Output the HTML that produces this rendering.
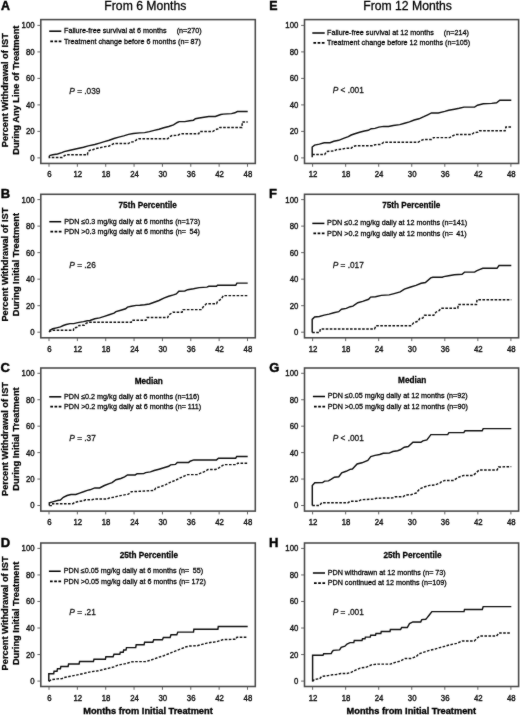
<!DOCTYPE html>
<html><head><meta charset="utf-8"><style>
html,body{margin:0;padding:0;background:#fff;width:520px;height:715px;overflow:hidden;}
svg{display:block;font-family:"Liberation Sans", sans-serif;will-change:transform;}
</style></head><body>
<svg width="520" height="715" viewBox="0 0 520 715">
<defs><filter id="soft" color-interpolation-filters="sRGB" filterUnits="userSpaceOnUse" primitiveUnits="userSpaceOnUse" x="0" y="0" width="520" height="715"><feConvolveMatrix order="3" kernelMatrix="0.5 1 0.5 1 16 1 0.5 1 0.5" divisor="22" edgeMode="duplicate" preserveAlpha="true"/></filter></defs>
<rect width="520" height="715" fill="#fff"/>
<g filter="url(#soft)">
<rect width="520" height="715" fill="#fff"/>
<rect x="40.80" y="19.60" width="214.50" height="143.85" fill="none" stroke="#484848" stroke-width="1.55"/>
<line x1="37.40" y1="157.90" x2="40.80" y2="157.90" stroke="#555" stroke-width="0.9"/>
<text transform="translate(34.60,160.85) scale(1,1.1)" font-size="7.8" font-weight="normal" font-style="normal" text-anchor="end" fill="#111" stroke="#111" stroke-width="0.35" >0</text>
<line x1="37.40" y1="131.40" x2="40.80" y2="131.40" stroke="#555" stroke-width="0.9"/>
<text transform="translate(34.60,134.35) scale(1,1.1)" font-size="7.8" font-weight="normal" font-style="normal" text-anchor="end" fill="#111" stroke="#111" stroke-width="0.35" >20</text>
<line x1="37.40" y1="104.90" x2="40.80" y2="104.90" stroke="#555" stroke-width="0.9"/>
<text transform="translate(34.60,107.85) scale(1,1.1)" font-size="7.8" font-weight="normal" font-style="normal" text-anchor="end" fill="#111" stroke="#111" stroke-width="0.35" >40</text>
<line x1="37.40" y1="78.40" x2="40.80" y2="78.40" stroke="#555" stroke-width="0.9"/>
<text transform="translate(34.60,81.35) scale(1,1.1)" font-size="7.8" font-weight="normal" font-style="normal" text-anchor="end" fill="#111" stroke="#111" stroke-width="0.35" >60</text>
<line x1="37.40" y1="51.90" x2="40.80" y2="51.90" stroke="#555" stroke-width="0.9"/>
<text transform="translate(34.60,54.85) scale(1,1.1)" font-size="7.8" font-weight="normal" font-style="normal" text-anchor="end" fill="#111" stroke="#111" stroke-width="0.35" >80</text>
<line x1="37.40" y1="25.40" x2="40.80" y2="25.40" stroke="#555" stroke-width="0.9"/>
<text transform="translate(34.60,28.35) scale(1,1.1)" font-size="7.8" font-weight="normal" font-style="normal" text-anchor="end" fill="#111" stroke="#111" stroke-width="0.35" >100</text>
<line x1="49.00" y1="163.45" x2="49.00" y2="166.75" stroke="#555" stroke-width="0.9"/>
<text transform="translate(49.40,176.80) scale(1,1.1)" font-size="7.8" font-weight="normal" font-style="normal" text-anchor="middle" fill="#111" stroke="#111" stroke-width="0.35" >6</text>
<line x1="77.36" y1="163.45" x2="77.36" y2="166.75" stroke="#555" stroke-width="0.9"/>
<text transform="translate(77.76,176.80) scale(1,1.1)" font-size="7.8" font-weight="normal" font-style="normal" text-anchor="middle" fill="#111" stroke="#111" stroke-width="0.35" >12</text>
<line x1="105.71" y1="163.45" x2="105.71" y2="166.75" stroke="#555" stroke-width="0.9"/>
<text transform="translate(106.11,176.80) scale(1,1.1)" font-size="7.8" font-weight="normal" font-style="normal" text-anchor="middle" fill="#111" stroke="#111" stroke-width="0.35" >18</text>
<line x1="134.07" y1="163.45" x2="134.07" y2="166.75" stroke="#555" stroke-width="0.9"/>
<text transform="translate(134.47,176.80) scale(1,1.1)" font-size="7.8" font-weight="normal" font-style="normal" text-anchor="middle" fill="#111" stroke="#111" stroke-width="0.35" >24</text>
<line x1="162.43" y1="163.45" x2="162.43" y2="166.75" stroke="#555" stroke-width="0.9"/>
<text transform="translate(162.83,176.80) scale(1,1.1)" font-size="7.8" font-weight="normal" font-style="normal" text-anchor="middle" fill="#111" stroke="#111" stroke-width="0.35" >30</text>
<line x1="190.79" y1="163.45" x2="190.79" y2="166.75" stroke="#555" stroke-width="0.9"/>
<text transform="translate(191.19,176.80) scale(1,1.1)" font-size="7.8" font-weight="normal" font-style="normal" text-anchor="middle" fill="#111" stroke="#111" stroke-width="0.35" >36</text>
<line x1="219.14" y1="163.45" x2="219.14" y2="166.75" stroke="#555" stroke-width="0.9"/>
<text transform="translate(219.54,176.80) scale(1,1.1)" font-size="7.8" font-weight="normal" font-style="normal" text-anchor="middle" fill="#111" stroke="#111" stroke-width="0.35" >42</text>
<line x1="247.50" y1="163.45" x2="247.50" y2="166.75" stroke="#555" stroke-width="0.9"/>
<text transform="translate(247.90,176.80) scale(1,1.1)" font-size="7.8" font-weight="normal" font-style="normal" text-anchor="middle" fill="#111" stroke="#111" stroke-width="0.35" >48</text>
<rect x="304.50" y="19.60" width="214.10" height="143.85" fill="none" stroke="#484848" stroke-width="1.55"/>
<line x1="301.10" y1="157.90" x2="304.50" y2="157.90" stroke="#555" stroke-width="0.9"/>
<text transform="translate(298.30,160.85) scale(1,1.1)" font-size="7.8" font-weight="normal" font-style="normal" text-anchor="end" fill="#111" stroke="#111" stroke-width="0.35" >0</text>
<line x1="301.10" y1="131.40" x2="304.50" y2="131.40" stroke="#555" stroke-width="0.9"/>
<text transform="translate(298.30,134.35) scale(1,1.1)" font-size="7.8" font-weight="normal" font-style="normal" text-anchor="end" fill="#111" stroke="#111" stroke-width="0.35" >20</text>
<line x1="301.10" y1="104.90" x2="304.50" y2="104.90" stroke="#555" stroke-width="0.9"/>
<text transform="translate(298.30,107.85) scale(1,1.1)" font-size="7.8" font-weight="normal" font-style="normal" text-anchor="end" fill="#111" stroke="#111" stroke-width="0.35" >40</text>
<line x1="301.10" y1="78.40" x2="304.50" y2="78.40" stroke="#555" stroke-width="0.9"/>
<text transform="translate(298.30,81.35) scale(1,1.1)" font-size="7.8" font-weight="normal" font-style="normal" text-anchor="end" fill="#111" stroke="#111" stroke-width="0.35" >60</text>
<line x1="301.10" y1="51.90" x2="304.50" y2="51.90" stroke="#555" stroke-width="0.9"/>
<text transform="translate(298.30,54.85) scale(1,1.1)" font-size="7.8" font-weight="normal" font-style="normal" text-anchor="end" fill="#111" stroke="#111" stroke-width="0.35" >80</text>
<line x1="301.10" y1="25.40" x2="304.50" y2="25.40" stroke="#555" stroke-width="0.9"/>
<text transform="translate(298.30,28.35) scale(1,1.1)" font-size="7.8" font-weight="normal" font-style="normal" text-anchor="end" fill="#111" stroke="#111" stroke-width="0.35" >100</text>
<line x1="312.60" y1="163.45" x2="312.60" y2="166.75" stroke="#555" stroke-width="0.9"/>
<text transform="translate(313.00,176.80) scale(1,1.1)" font-size="7.8" font-weight="normal" font-style="normal" text-anchor="middle" fill="#111" stroke="#111" stroke-width="0.35" >12</text>
<line x1="345.65" y1="163.45" x2="345.65" y2="166.75" stroke="#555" stroke-width="0.9"/>
<text transform="translate(346.05,176.80) scale(1,1.1)" font-size="7.8" font-weight="normal" font-style="normal" text-anchor="middle" fill="#111" stroke="#111" stroke-width="0.35" >18</text>
<line x1="378.70" y1="163.45" x2="378.70" y2="166.75" stroke="#555" stroke-width="0.9"/>
<text transform="translate(379.10,176.80) scale(1,1.1)" font-size="7.8" font-weight="normal" font-style="normal" text-anchor="middle" fill="#111" stroke="#111" stroke-width="0.35" >24</text>
<line x1="411.75" y1="163.45" x2="411.75" y2="166.75" stroke="#555" stroke-width="0.9"/>
<text transform="translate(412.15,176.80) scale(1,1.1)" font-size="7.8" font-weight="normal" font-style="normal" text-anchor="middle" fill="#111" stroke="#111" stroke-width="0.35" >30</text>
<line x1="444.80" y1="163.45" x2="444.80" y2="166.75" stroke="#555" stroke-width="0.9"/>
<text transform="translate(445.20,176.80) scale(1,1.1)" font-size="7.8" font-weight="normal" font-style="normal" text-anchor="middle" fill="#111" stroke="#111" stroke-width="0.35" >36</text>
<line x1="477.85" y1="163.45" x2="477.85" y2="166.75" stroke="#555" stroke-width="0.9"/>
<text transform="translate(478.25,176.80) scale(1,1.1)" font-size="7.8" font-weight="normal" font-style="normal" text-anchor="middle" fill="#111" stroke="#111" stroke-width="0.35" >42</text>
<line x1="510.90" y1="163.45" x2="510.90" y2="166.75" stroke="#555" stroke-width="0.9"/>
<text transform="translate(511.30,176.80) scale(1,1.1)" font-size="7.8" font-weight="normal" font-style="normal" text-anchor="middle" fill="#111" stroke="#111" stroke-width="0.35" >48</text>
<rect x="40.80" y="194.30" width="214.50" height="143.50" fill="none" stroke="#484848" stroke-width="1.55"/>
<line x1="37.40" y1="332.20" x2="40.80" y2="332.20" stroke="#555" stroke-width="0.9"/>
<text transform="translate(34.60,335.15) scale(1,1.1)" font-size="7.8" font-weight="normal" font-style="normal" text-anchor="end" fill="#111" stroke="#111" stroke-width="0.35" >0</text>
<line x1="37.40" y1="305.68" x2="40.80" y2="305.68" stroke="#555" stroke-width="0.9"/>
<text transform="translate(34.60,308.63) scale(1,1.1)" font-size="7.8" font-weight="normal" font-style="normal" text-anchor="end" fill="#111" stroke="#111" stroke-width="0.35" >20</text>
<line x1="37.40" y1="279.16" x2="40.80" y2="279.16" stroke="#555" stroke-width="0.9"/>
<text transform="translate(34.60,282.11) scale(1,1.1)" font-size="7.8" font-weight="normal" font-style="normal" text-anchor="end" fill="#111" stroke="#111" stroke-width="0.35" >40</text>
<line x1="37.40" y1="252.64" x2="40.80" y2="252.64" stroke="#555" stroke-width="0.9"/>
<text transform="translate(34.60,255.59) scale(1,1.1)" font-size="7.8" font-weight="normal" font-style="normal" text-anchor="end" fill="#111" stroke="#111" stroke-width="0.35" >60</text>
<line x1="37.40" y1="226.12" x2="40.80" y2="226.12" stroke="#555" stroke-width="0.9"/>
<text transform="translate(34.60,229.07) scale(1,1.1)" font-size="7.8" font-weight="normal" font-style="normal" text-anchor="end" fill="#111" stroke="#111" stroke-width="0.35" >80</text>
<line x1="37.40" y1="199.60" x2="40.80" y2="199.60" stroke="#555" stroke-width="0.9"/>
<text transform="translate(34.60,202.55) scale(1,1.1)" font-size="7.8" font-weight="normal" font-style="normal" text-anchor="end" fill="#111" stroke="#111" stroke-width="0.35" >100</text>
<line x1="49.00" y1="337.80" x2="49.00" y2="341.10" stroke="#555" stroke-width="0.9"/>
<text transform="translate(49.40,351.50) scale(1,1.1)" font-size="7.8" font-weight="normal" font-style="normal" text-anchor="middle" fill="#111" stroke="#111" stroke-width="0.35" >6</text>
<line x1="77.36" y1="337.80" x2="77.36" y2="341.10" stroke="#555" stroke-width="0.9"/>
<text transform="translate(77.76,351.50) scale(1,1.1)" font-size="7.8" font-weight="normal" font-style="normal" text-anchor="middle" fill="#111" stroke="#111" stroke-width="0.35" >12</text>
<line x1="105.71" y1="337.80" x2="105.71" y2="341.10" stroke="#555" stroke-width="0.9"/>
<text transform="translate(106.11,351.50) scale(1,1.1)" font-size="7.8" font-weight="normal" font-style="normal" text-anchor="middle" fill="#111" stroke="#111" stroke-width="0.35" >18</text>
<line x1="134.07" y1="337.80" x2="134.07" y2="341.10" stroke="#555" stroke-width="0.9"/>
<text transform="translate(134.47,351.50) scale(1,1.1)" font-size="7.8" font-weight="normal" font-style="normal" text-anchor="middle" fill="#111" stroke="#111" stroke-width="0.35" >24</text>
<line x1="162.43" y1="337.80" x2="162.43" y2="341.10" stroke="#555" stroke-width="0.9"/>
<text transform="translate(162.83,351.50) scale(1,1.1)" font-size="7.8" font-weight="normal" font-style="normal" text-anchor="middle" fill="#111" stroke="#111" stroke-width="0.35" >30</text>
<line x1="190.79" y1="337.80" x2="190.79" y2="341.10" stroke="#555" stroke-width="0.9"/>
<text transform="translate(191.19,351.50) scale(1,1.1)" font-size="7.8" font-weight="normal" font-style="normal" text-anchor="middle" fill="#111" stroke="#111" stroke-width="0.35" >36</text>
<line x1="219.14" y1="337.80" x2="219.14" y2="341.10" stroke="#555" stroke-width="0.9"/>
<text transform="translate(219.54,351.50) scale(1,1.1)" font-size="7.8" font-weight="normal" font-style="normal" text-anchor="middle" fill="#111" stroke="#111" stroke-width="0.35" >42</text>
<line x1="247.50" y1="337.80" x2="247.50" y2="341.10" stroke="#555" stroke-width="0.9"/>
<text transform="translate(247.90,351.50) scale(1,1.1)" font-size="7.8" font-weight="normal" font-style="normal" text-anchor="middle" fill="#111" stroke="#111" stroke-width="0.35" >48</text>
<rect x="304.50" y="194.30" width="214.10" height="143.50" fill="none" stroke="#484848" stroke-width="1.55"/>
<line x1="301.10" y1="332.20" x2="304.50" y2="332.20" stroke="#555" stroke-width="0.9"/>
<text transform="translate(298.30,335.15) scale(1,1.1)" font-size="7.8" font-weight="normal" font-style="normal" text-anchor="end" fill="#111" stroke="#111" stroke-width="0.35" >0</text>
<line x1="301.10" y1="305.68" x2="304.50" y2="305.68" stroke="#555" stroke-width="0.9"/>
<text transform="translate(298.30,308.63) scale(1,1.1)" font-size="7.8" font-weight="normal" font-style="normal" text-anchor="end" fill="#111" stroke="#111" stroke-width="0.35" >20</text>
<line x1="301.10" y1="279.16" x2="304.50" y2="279.16" stroke="#555" stroke-width="0.9"/>
<text transform="translate(298.30,282.11) scale(1,1.1)" font-size="7.8" font-weight="normal" font-style="normal" text-anchor="end" fill="#111" stroke="#111" stroke-width="0.35" >40</text>
<line x1="301.10" y1="252.64" x2="304.50" y2="252.64" stroke="#555" stroke-width="0.9"/>
<text transform="translate(298.30,255.59) scale(1,1.1)" font-size="7.8" font-weight="normal" font-style="normal" text-anchor="end" fill="#111" stroke="#111" stroke-width="0.35" >60</text>
<line x1="301.10" y1="226.12" x2="304.50" y2="226.12" stroke="#555" stroke-width="0.9"/>
<text transform="translate(298.30,229.07) scale(1,1.1)" font-size="7.8" font-weight="normal" font-style="normal" text-anchor="end" fill="#111" stroke="#111" stroke-width="0.35" >80</text>
<line x1="301.10" y1="199.60" x2="304.50" y2="199.60" stroke="#555" stroke-width="0.9"/>
<text transform="translate(298.30,202.55) scale(1,1.1)" font-size="7.8" font-weight="normal" font-style="normal" text-anchor="end" fill="#111" stroke="#111" stroke-width="0.35" >100</text>
<line x1="312.60" y1="337.80" x2="312.60" y2="341.10" stroke="#555" stroke-width="0.9"/>
<text transform="translate(313.00,351.50) scale(1,1.1)" font-size="7.8" font-weight="normal" font-style="normal" text-anchor="middle" fill="#111" stroke="#111" stroke-width="0.35" >12</text>
<line x1="345.65" y1="337.80" x2="345.65" y2="341.10" stroke="#555" stroke-width="0.9"/>
<text transform="translate(346.05,351.50) scale(1,1.1)" font-size="7.8" font-weight="normal" font-style="normal" text-anchor="middle" fill="#111" stroke="#111" stroke-width="0.35" >18</text>
<line x1="378.70" y1="337.80" x2="378.70" y2="341.10" stroke="#555" stroke-width="0.9"/>
<text transform="translate(379.10,351.50) scale(1,1.1)" font-size="7.8" font-weight="normal" font-style="normal" text-anchor="middle" fill="#111" stroke="#111" stroke-width="0.35" >24</text>
<line x1="411.75" y1="337.80" x2="411.75" y2="341.10" stroke="#555" stroke-width="0.9"/>
<text transform="translate(412.15,351.50) scale(1,1.1)" font-size="7.8" font-weight="normal" font-style="normal" text-anchor="middle" fill="#111" stroke="#111" stroke-width="0.35" >30</text>
<line x1="444.80" y1="337.80" x2="444.80" y2="341.10" stroke="#555" stroke-width="0.9"/>
<text transform="translate(445.20,351.50) scale(1,1.1)" font-size="7.8" font-weight="normal" font-style="normal" text-anchor="middle" fill="#111" stroke="#111" stroke-width="0.35" >36</text>
<line x1="477.85" y1="337.80" x2="477.85" y2="341.10" stroke="#555" stroke-width="0.9"/>
<text transform="translate(478.25,351.50) scale(1,1.1)" font-size="7.8" font-weight="normal" font-style="normal" text-anchor="middle" fill="#111" stroke="#111" stroke-width="0.35" >42</text>
<line x1="510.90" y1="337.80" x2="510.90" y2="341.10" stroke="#555" stroke-width="0.9"/>
<text transform="translate(511.30,351.50) scale(1,1.1)" font-size="7.8" font-weight="normal" font-style="normal" text-anchor="middle" fill="#111" stroke="#111" stroke-width="0.35" >48</text>
<rect x="40.80" y="368.00" width="214.50" height="143.10" fill="none" stroke="#484848" stroke-width="1.55"/>
<line x1="37.40" y1="505.50" x2="40.80" y2="505.50" stroke="#555" stroke-width="0.9"/>
<text transform="translate(34.60,508.45) scale(1,1.1)" font-size="7.8" font-weight="normal" font-style="normal" text-anchor="end" fill="#111" stroke="#111" stroke-width="0.35" >0</text>
<line x1="37.40" y1="479.06" x2="40.80" y2="479.06" stroke="#555" stroke-width="0.9"/>
<text transform="translate(34.60,482.01) scale(1,1.1)" font-size="7.8" font-weight="normal" font-style="normal" text-anchor="end" fill="#111" stroke="#111" stroke-width="0.35" >20</text>
<line x1="37.40" y1="452.62" x2="40.80" y2="452.62" stroke="#555" stroke-width="0.9"/>
<text transform="translate(34.60,455.57) scale(1,1.1)" font-size="7.8" font-weight="normal" font-style="normal" text-anchor="end" fill="#111" stroke="#111" stroke-width="0.35" >40</text>
<line x1="37.40" y1="426.18" x2="40.80" y2="426.18" stroke="#555" stroke-width="0.9"/>
<text transform="translate(34.60,429.13) scale(1,1.1)" font-size="7.8" font-weight="normal" font-style="normal" text-anchor="end" fill="#111" stroke="#111" stroke-width="0.35" >60</text>
<line x1="37.40" y1="399.74" x2="40.80" y2="399.74" stroke="#555" stroke-width="0.9"/>
<text transform="translate(34.60,402.69) scale(1,1.1)" font-size="7.8" font-weight="normal" font-style="normal" text-anchor="end" fill="#111" stroke="#111" stroke-width="0.35" >80</text>
<line x1="37.40" y1="373.30" x2="40.80" y2="373.30" stroke="#555" stroke-width="0.9"/>
<text transform="translate(34.60,376.25) scale(1,1.1)" font-size="7.8" font-weight="normal" font-style="normal" text-anchor="end" fill="#111" stroke="#111" stroke-width="0.35" >100</text>
<line x1="49.00" y1="511.10" x2="49.00" y2="514.40" stroke="#555" stroke-width="0.9"/>
<text transform="translate(49.40,525.30) scale(1,1.1)" font-size="7.8" font-weight="normal" font-style="normal" text-anchor="middle" fill="#111" stroke="#111" stroke-width="0.35" >6</text>
<line x1="77.36" y1="511.10" x2="77.36" y2="514.40" stroke="#555" stroke-width="0.9"/>
<text transform="translate(77.76,525.30) scale(1,1.1)" font-size="7.8" font-weight="normal" font-style="normal" text-anchor="middle" fill="#111" stroke="#111" stroke-width="0.35" >12</text>
<line x1="105.71" y1="511.10" x2="105.71" y2="514.40" stroke="#555" stroke-width="0.9"/>
<text transform="translate(106.11,525.30) scale(1,1.1)" font-size="7.8" font-weight="normal" font-style="normal" text-anchor="middle" fill="#111" stroke="#111" stroke-width="0.35" >18</text>
<line x1="134.07" y1="511.10" x2="134.07" y2="514.40" stroke="#555" stroke-width="0.9"/>
<text transform="translate(134.47,525.30) scale(1,1.1)" font-size="7.8" font-weight="normal" font-style="normal" text-anchor="middle" fill="#111" stroke="#111" stroke-width="0.35" >24</text>
<line x1="162.43" y1="511.10" x2="162.43" y2="514.40" stroke="#555" stroke-width="0.9"/>
<text transform="translate(162.83,525.30) scale(1,1.1)" font-size="7.8" font-weight="normal" font-style="normal" text-anchor="middle" fill="#111" stroke="#111" stroke-width="0.35" >30</text>
<line x1="190.79" y1="511.10" x2="190.79" y2="514.40" stroke="#555" stroke-width="0.9"/>
<text transform="translate(191.19,525.30) scale(1,1.1)" font-size="7.8" font-weight="normal" font-style="normal" text-anchor="middle" fill="#111" stroke="#111" stroke-width="0.35" >36</text>
<line x1="219.14" y1="511.10" x2="219.14" y2="514.40" stroke="#555" stroke-width="0.9"/>
<text transform="translate(219.54,525.30) scale(1,1.1)" font-size="7.8" font-weight="normal" font-style="normal" text-anchor="middle" fill="#111" stroke="#111" stroke-width="0.35" >42</text>
<line x1="247.50" y1="511.10" x2="247.50" y2="514.40" stroke="#555" stroke-width="0.9"/>
<text transform="translate(247.90,525.30) scale(1,1.1)" font-size="7.8" font-weight="normal" font-style="normal" text-anchor="middle" fill="#111" stroke="#111" stroke-width="0.35" >48</text>
<rect x="304.50" y="368.00" width="214.10" height="143.10" fill="none" stroke="#484848" stroke-width="1.55"/>
<line x1="301.10" y1="505.50" x2="304.50" y2="505.50" stroke="#555" stroke-width="0.9"/>
<text transform="translate(298.30,508.45) scale(1,1.1)" font-size="7.8" font-weight="normal" font-style="normal" text-anchor="end" fill="#111" stroke="#111" stroke-width="0.35" >0</text>
<line x1="301.10" y1="479.06" x2="304.50" y2="479.06" stroke="#555" stroke-width="0.9"/>
<text transform="translate(298.30,482.01) scale(1,1.1)" font-size="7.8" font-weight="normal" font-style="normal" text-anchor="end" fill="#111" stroke="#111" stroke-width="0.35" >20</text>
<line x1="301.10" y1="452.62" x2="304.50" y2="452.62" stroke="#555" stroke-width="0.9"/>
<text transform="translate(298.30,455.57) scale(1,1.1)" font-size="7.8" font-weight="normal" font-style="normal" text-anchor="end" fill="#111" stroke="#111" stroke-width="0.35" >40</text>
<line x1="301.10" y1="426.18" x2="304.50" y2="426.18" stroke="#555" stroke-width="0.9"/>
<text transform="translate(298.30,429.13) scale(1,1.1)" font-size="7.8" font-weight="normal" font-style="normal" text-anchor="end" fill="#111" stroke="#111" stroke-width="0.35" >60</text>
<line x1="301.10" y1="399.74" x2="304.50" y2="399.74" stroke="#555" stroke-width="0.9"/>
<text transform="translate(298.30,402.69) scale(1,1.1)" font-size="7.8" font-weight="normal" font-style="normal" text-anchor="end" fill="#111" stroke="#111" stroke-width="0.35" >80</text>
<line x1="301.10" y1="373.30" x2="304.50" y2="373.30" stroke="#555" stroke-width="0.9"/>
<text transform="translate(298.30,376.25) scale(1,1.1)" font-size="7.8" font-weight="normal" font-style="normal" text-anchor="end" fill="#111" stroke="#111" stroke-width="0.35" >100</text>
<line x1="312.60" y1="511.10" x2="312.60" y2="514.40" stroke="#555" stroke-width="0.9"/>
<text transform="translate(313.00,525.30) scale(1,1.1)" font-size="7.8" font-weight="normal" font-style="normal" text-anchor="middle" fill="#111" stroke="#111" stroke-width="0.35" >12</text>
<line x1="345.65" y1="511.10" x2="345.65" y2="514.40" stroke="#555" stroke-width="0.9"/>
<text transform="translate(346.05,525.30) scale(1,1.1)" font-size="7.8" font-weight="normal" font-style="normal" text-anchor="middle" fill="#111" stroke="#111" stroke-width="0.35" >18</text>
<line x1="378.70" y1="511.10" x2="378.70" y2="514.40" stroke="#555" stroke-width="0.9"/>
<text transform="translate(379.10,525.30) scale(1,1.1)" font-size="7.8" font-weight="normal" font-style="normal" text-anchor="middle" fill="#111" stroke="#111" stroke-width="0.35" >24</text>
<line x1="411.75" y1="511.10" x2="411.75" y2="514.40" stroke="#555" stroke-width="0.9"/>
<text transform="translate(412.15,525.30) scale(1,1.1)" font-size="7.8" font-weight="normal" font-style="normal" text-anchor="middle" fill="#111" stroke="#111" stroke-width="0.35" >30</text>
<line x1="444.80" y1="511.10" x2="444.80" y2="514.40" stroke="#555" stroke-width="0.9"/>
<text transform="translate(445.20,525.30) scale(1,1.1)" font-size="7.8" font-weight="normal" font-style="normal" text-anchor="middle" fill="#111" stroke="#111" stroke-width="0.35" >36</text>
<line x1="477.85" y1="511.10" x2="477.85" y2="514.40" stroke="#555" stroke-width="0.9"/>
<text transform="translate(478.25,525.30) scale(1,1.1)" font-size="7.8" font-weight="normal" font-style="normal" text-anchor="middle" fill="#111" stroke="#111" stroke-width="0.35" >42</text>
<line x1="510.90" y1="511.10" x2="510.90" y2="514.40" stroke="#555" stroke-width="0.9"/>
<text transform="translate(511.30,525.30) scale(1,1.1)" font-size="7.8" font-weight="normal" font-style="normal" text-anchor="middle" fill="#111" stroke="#111" stroke-width="0.35" >48</text>
<rect x="40.80" y="543.00" width="214.50" height="143.50" fill="none" stroke="#484848" stroke-width="1.55"/>
<line x1="37.40" y1="681.10" x2="40.80" y2="681.10" stroke="#555" stroke-width="0.9"/>
<text transform="translate(34.60,684.05) scale(1,1.1)" font-size="7.8" font-weight="normal" font-style="normal" text-anchor="end" fill="#111" stroke="#111" stroke-width="0.35" >0</text>
<line x1="37.40" y1="654.56" x2="40.80" y2="654.56" stroke="#555" stroke-width="0.9"/>
<text transform="translate(34.60,657.51) scale(1,1.1)" font-size="7.8" font-weight="normal" font-style="normal" text-anchor="end" fill="#111" stroke="#111" stroke-width="0.35" >20</text>
<line x1="37.40" y1="628.02" x2="40.80" y2="628.02" stroke="#555" stroke-width="0.9"/>
<text transform="translate(34.60,630.97) scale(1,1.1)" font-size="7.8" font-weight="normal" font-style="normal" text-anchor="end" fill="#111" stroke="#111" stroke-width="0.35" >40</text>
<line x1="37.40" y1="601.48" x2="40.80" y2="601.48" stroke="#555" stroke-width="0.9"/>
<text transform="translate(34.60,604.43) scale(1,1.1)" font-size="7.8" font-weight="normal" font-style="normal" text-anchor="end" fill="#111" stroke="#111" stroke-width="0.35" >60</text>
<line x1="37.40" y1="574.94" x2="40.80" y2="574.94" stroke="#555" stroke-width="0.9"/>
<text transform="translate(34.60,577.89) scale(1,1.1)" font-size="7.8" font-weight="normal" font-style="normal" text-anchor="end" fill="#111" stroke="#111" stroke-width="0.35" >80</text>
<line x1="37.40" y1="548.40" x2="40.80" y2="548.40" stroke="#555" stroke-width="0.9"/>
<text transform="translate(34.60,551.35) scale(1,1.1)" font-size="7.8" font-weight="normal" font-style="normal" text-anchor="end" fill="#111" stroke="#111" stroke-width="0.35" >100</text>
<line x1="49.00" y1="686.50" x2="49.00" y2="689.80" stroke="#555" stroke-width="0.9"/>
<text transform="translate(49.40,700.80) scale(1,1.1)" font-size="7.8" font-weight="normal" font-style="normal" text-anchor="middle" fill="#111" stroke="#111" stroke-width="0.35" >6</text>
<line x1="77.36" y1="686.50" x2="77.36" y2="689.80" stroke="#555" stroke-width="0.9"/>
<text transform="translate(77.76,700.80) scale(1,1.1)" font-size="7.8" font-weight="normal" font-style="normal" text-anchor="middle" fill="#111" stroke="#111" stroke-width="0.35" >12</text>
<line x1="105.71" y1="686.50" x2="105.71" y2="689.80" stroke="#555" stroke-width="0.9"/>
<text transform="translate(106.11,700.80) scale(1,1.1)" font-size="7.8" font-weight="normal" font-style="normal" text-anchor="middle" fill="#111" stroke="#111" stroke-width="0.35" >18</text>
<line x1="134.07" y1="686.50" x2="134.07" y2="689.80" stroke="#555" stroke-width="0.9"/>
<text transform="translate(134.47,700.80) scale(1,1.1)" font-size="7.8" font-weight="normal" font-style="normal" text-anchor="middle" fill="#111" stroke="#111" stroke-width="0.35" >24</text>
<line x1="162.43" y1="686.50" x2="162.43" y2="689.80" stroke="#555" stroke-width="0.9"/>
<text transform="translate(162.83,700.80) scale(1,1.1)" font-size="7.8" font-weight="normal" font-style="normal" text-anchor="middle" fill="#111" stroke="#111" stroke-width="0.35" >30</text>
<line x1="190.79" y1="686.50" x2="190.79" y2="689.80" stroke="#555" stroke-width="0.9"/>
<text transform="translate(191.19,700.80) scale(1,1.1)" font-size="7.8" font-weight="normal" font-style="normal" text-anchor="middle" fill="#111" stroke="#111" stroke-width="0.35" >36</text>
<line x1="219.14" y1="686.50" x2="219.14" y2="689.80" stroke="#555" stroke-width="0.9"/>
<text transform="translate(219.54,700.80) scale(1,1.1)" font-size="7.8" font-weight="normal" font-style="normal" text-anchor="middle" fill="#111" stroke="#111" stroke-width="0.35" >42</text>
<line x1="247.50" y1="686.50" x2="247.50" y2="689.80" stroke="#555" stroke-width="0.9"/>
<text transform="translate(247.90,700.80) scale(1,1.1)" font-size="7.8" font-weight="normal" font-style="normal" text-anchor="middle" fill="#111" stroke="#111" stroke-width="0.35" >48</text>
<rect x="304.50" y="543.00" width="214.10" height="143.50" fill="none" stroke="#484848" stroke-width="1.55"/>
<line x1="301.10" y1="681.10" x2="304.50" y2="681.10" stroke="#555" stroke-width="0.9"/>
<text transform="translate(298.30,684.05) scale(1,1.1)" font-size="7.8" font-weight="normal" font-style="normal" text-anchor="end" fill="#111" stroke="#111" stroke-width="0.35" >0</text>
<line x1="301.10" y1="654.56" x2="304.50" y2="654.56" stroke="#555" stroke-width="0.9"/>
<text transform="translate(298.30,657.51) scale(1,1.1)" font-size="7.8" font-weight="normal" font-style="normal" text-anchor="end" fill="#111" stroke="#111" stroke-width="0.35" >20</text>
<line x1="301.10" y1="628.02" x2="304.50" y2="628.02" stroke="#555" stroke-width="0.9"/>
<text transform="translate(298.30,630.97) scale(1,1.1)" font-size="7.8" font-weight="normal" font-style="normal" text-anchor="end" fill="#111" stroke="#111" stroke-width="0.35" >40</text>
<line x1="301.10" y1="601.48" x2="304.50" y2="601.48" stroke="#555" stroke-width="0.9"/>
<text transform="translate(298.30,604.43) scale(1,1.1)" font-size="7.8" font-weight="normal" font-style="normal" text-anchor="end" fill="#111" stroke="#111" stroke-width="0.35" >60</text>
<line x1="301.10" y1="574.94" x2="304.50" y2="574.94" stroke="#555" stroke-width="0.9"/>
<text transform="translate(298.30,577.89) scale(1,1.1)" font-size="7.8" font-weight="normal" font-style="normal" text-anchor="end" fill="#111" stroke="#111" stroke-width="0.35" >80</text>
<line x1="301.10" y1="548.40" x2="304.50" y2="548.40" stroke="#555" stroke-width="0.9"/>
<text transform="translate(298.30,551.35) scale(1,1.1)" font-size="7.8" font-weight="normal" font-style="normal" text-anchor="end" fill="#111" stroke="#111" stroke-width="0.35" >100</text>
<line x1="312.60" y1="686.50" x2="312.60" y2="689.80" stroke="#555" stroke-width="0.9"/>
<text transform="translate(313.00,700.80) scale(1,1.1)" font-size="7.8" font-weight="normal" font-style="normal" text-anchor="middle" fill="#111" stroke="#111" stroke-width="0.35" >12</text>
<line x1="345.65" y1="686.50" x2="345.65" y2="689.80" stroke="#555" stroke-width="0.9"/>
<text transform="translate(346.05,700.80) scale(1,1.1)" font-size="7.8" font-weight="normal" font-style="normal" text-anchor="middle" fill="#111" stroke="#111" stroke-width="0.35" >18</text>
<line x1="378.70" y1="686.50" x2="378.70" y2="689.80" stroke="#555" stroke-width="0.9"/>
<text transform="translate(379.10,700.80) scale(1,1.1)" font-size="7.8" font-weight="normal" font-style="normal" text-anchor="middle" fill="#111" stroke="#111" stroke-width="0.35" >24</text>
<line x1="411.75" y1="686.50" x2="411.75" y2="689.80" stroke="#555" stroke-width="0.9"/>
<text transform="translate(412.15,700.80) scale(1,1.1)" font-size="7.8" font-weight="normal" font-style="normal" text-anchor="middle" fill="#111" stroke="#111" stroke-width="0.35" >30</text>
<line x1="444.80" y1="686.50" x2="444.80" y2="689.80" stroke="#555" stroke-width="0.9"/>
<text transform="translate(445.20,700.80) scale(1,1.1)" font-size="7.8" font-weight="normal" font-style="normal" text-anchor="middle" fill="#111" stroke="#111" stroke-width="0.35" >36</text>
<line x1="477.85" y1="686.50" x2="477.85" y2="689.80" stroke="#555" stroke-width="0.9"/>
<text transform="translate(478.25,700.80) scale(1,1.1)" font-size="7.8" font-weight="normal" font-style="normal" text-anchor="middle" fill="#111" stroke="#111" stroke-width="0.35" >42</text>
<line x1="510.90" y1="686.50" x2="510.90" y2="689.80" stroke="#555" stroke-width="0.9"/>
<text transform="translate(511.30,700.80) scale(1,1.1)" font-size="7.8" font-weight="normal" font-style="normal" text-anchor="middle" fill="#111" stroke="#111" stroke-width="0.35" >48</text>
<text x="145.35" y="9.60" font-size="12.2" font-weight="normal" font-style="normal" text-anchor="middle" fill="#000" stroke="#000" stroke-width="0.26" >From 6 Months</text>
<text x="407.60" y="9.60" font-size="12.2" font-weight="normal" font-style="normal" text-anchor="middle" fill="#000" stroke="#000" stroke-width="0.26" >From 12 Months</text>
<text x="0.90" y="9.90" font-size="12.4" font-weight="bold" font-style="normal" text-anchor="start" fill="#000" stroke="#000" stroke-width="0.45" >A</text>
<text x="0.70" y="198.40" font-size="13" font-weight="bold" font-style="normal" text-anchor="start" fill="#000" stroke="#000" stroke-width="0.45" >B</text>
<text x="0.50" y="371.50" font-size="13" font-weight="bold" font-style="normal" text-anchor="start" fill="#000" stroke="#000" stroke-width="0.45" >C</text>
<text x="0.70" y="546.90" font-size="13" font-weight="bold" font-style="normal" text-anchor="start" fill="#000" stroke="#000" stroke-width="0.45" >D</text>
<text x="269.30" y="9.90" font-size="12.4" font-weight="bold" font-style="normal" text-anchor="start" fill="#000" stroke="#000" stroke-width="0.45" >E</text>
<text x="268.90" y="198.40" font-size="13" font-weight="bold" font-style="normal" text-anchor="start" fill="#000" stroke="#000" stroke-width="0.45" >F</text>
<text x="269.20" y="371.50" font-size="13" font-weight="bold" font-style="normal" text-anchor="start" fill="#000" stroke="#000" stroke-width="0.45" >G</text>
<text x="269.00" y="546.90" font-size="13" font-weight="bold" font-style="normal" text-anchor="start" fill="#000" stroke="#000" stroke-width="0.45" >H</text>
<text transform="translate(7.60,90.20) rotate(-90)" x="0" y="0" font-size="9.25" font-weight="bold" text-anchor="middle" fill="#000" stroke="#000" stroke-width="0.26">Percent Withdrawal of IST</text>
<text transform="translate(18.60,90.20) rotate(-90)" x="0" y="0" font-size="9.25" font-weight="bold" text-anchor="middle" fill="#000" stroke="#000" stroke-width="0.26">During Any Line of Treatment</text>
<text transform="translate(7.60,264.60) rotate(-90)" x="0" y="0" font-size="9.25" font-weight="bold" text-anchor="middle" fill="#000" stroke="#000" stroke-width="0.26">Percent Withdrawal of IST</text>
<text transform="translate(18.60,264.60) rotate(-90)" x="0" y="0" font-size="9.25" font-weight="bold" text-anchor="middle" fill="#000" stroke="#000" stroke-width="0.26">During Initial Treatment</text>
<text transform="translate(7.60,439.00) rotate(-90)" x="0" y="0" font-size="9.25" font-weight="bold" text-anchor="middle" fill="#000" stroke="#000" stroke-width="0.26">Percent Withdrawal of IST</text>
<text transform="translate(18.60,439.00) rotate(-90)" x="0" y="0" font-size="9.25" font-weight="bold" text-anchor="middle" fill="#000" stroke="#000" stroke-width="0.26">During Initial Treatment</text>
<text transform="translate(7.60,613.40) rotate(-90)" x="0" y="0" font-size="9.25" font-weight="bold" text-anchor="middle" fill="#000" stroke="#000" stroke-width="0.26">Percent Withdrawal of IST</text>
<text transform="translate(18.60,613.40) rotate(-90)" x="0" y="0" font-size="9.25" font-weight="bold" text-anchor="middle" fill="#000" stroke="#000" stroke-width="0.26">During Initial Treatment</text>
<text x="148.00" y="714.30" font-size="9.25" font-weight="bold" font-style="normal" text-anchor="middle" fill="#000" stroke="#000" stroke-width="0.35" >Months from Initial Treatment</text>
<text x="411.30" y="714.30" font-size="9.25" font-weight="bold" font-style="normal" text-anchor="middle" fill="#000" stroke="#000" stroke-width="0.35" >Months from Initial Treatment</text>
<text x="147.70" y="207.90" font-size="8.2" font-weight="bold" font-style="normal" text-anchor="middle" fill="#000" stroke="#000" stroke-width="0.26" >75th Percentile</text>
<text x="148.75" y="383.50" font-size="8.2" font-weight="bold" font-style="normal" text-anchor="middle" fill="#000" stroke="#000" stroke-width="0.26" >Median</text>
<text x="148.85" y="557.50" font-size="8.2" font-weight="bold" font-style="normal" text-anchor="middle" fill="#000" stroke="#000" stroke-width="0.26" >25th Percentile</text>
<text x="411.25" y="208.20" font-size="8.2" font-weight="bold" font-style="normal" text-anchor="middle" fill="#000" stroke="#000" stroke-width="0.26" >75th Percentile</text>
<text x="412.20" y="383.40" font-size="8.2" font-weight="bold" font-style="normal" text-anchor="middle" fill="#000" stroke="#000" stroke-width="0.26" >Median</text>
<text x="412.50" y="557.80" font-size="8.2" font-weight="bold" font-style="normal" text-anchor="middle" fill="#000" stroke="#000" stroke-width="0.26" >25th Percentile</text>
<line x1="49.20" y1="31.20" x2="61.30" y2="31.20" stroke="#000" stroke-width="1.5"/>
<line x1="50.30" y1="41.40" x2="61.40" y2="41.40" stroke="#000" stroke-width="1.6" stroke-dasharray="2.7 1.5"/>
<text x="64.00" y="33.10" font-size="7.2" font-weight="normal" font-style="normal" text-anchor="start" fill="#000" stroke="#000" stroke-width="0.26" >Failure-free survival at 6 months</text>
<text x="64.00" y="43.70" font-size="7.2" font-weight="normal" font-style="normal" text-anchor="start" fill="#000" stroke="#000" stroke-width="0.26" >Treatment change before 6 months (n= 87)</text>
<text x="176.70" y="33.10" font-size="7.2" font-weight="normal" font-style="normal" text-anchor="start" fill="#000" stroke="#000" stroke-width="0.26" >(n=270)</text>
<line x1="49.30" y1="221.70" x2="61.20" y2="221.70" stroke="#000" stroke-width="1.5"/>
<line x1="50.40" y1="231.60" x2="61.50" y2="231.60" stroke="#000" stroke-width="1.6" stroke-dasharray="2.7 1.5"/>
<text x="64.20" y="223.60" font-size="7.2" font-weight="normal" font-style="normal" text-anchor="start" fill="#000" stroke="#000" stroke-width="0.26" >PDN ≤0.3 mg/kg daily at 6 months (n=173)</text>
<text x="64.20" y="233.90" font-size="7.2" font-weight="normal" font-style="normal" text-anchor="start" fill="#000" stroke="#000" stroke-width="0.26" >PDN &gt;0.3 mg/kg daily at 6 months (n=  54)</text>
<line x1="49.20" y1="396.80" x2="61.30" y2="396.80" stroke="#000" stroke-width="1.5"/>
<line x1="50.30" y1="406.60" x2="61.40" y2="406.60" stroke="#000" stroke-width="1.6" stroke-dasharray="2.7 1.5"/>
<text x="64.00" y="398.70" font-size="7.2" font-weight="normal" font-style="normal" text-anchor="start" fill="#000" stroke="#000" stroke-width="0.26" >PDN ≤0.2 mg/kg daily at 6 months (n=116)</text>
<text x="64.00" y="408.90" font-size="7.2" font-weight="normal" font-style="normal" text-anchor="start" fill="#000" stroke="#000" stroke-width="0.26" >PDN &gt;0.2 mg/kg daily at 6 months (n= 111)</text>
<line x1="48.90" y1="571.25" x2="60.70" y2="571.25" stroke="#000" stroke-width="1.5"/>
<line x1="50.00" y1="581.40" x2="61.10" y2="581.40" stroke="#000" stroke-width="1.6" stroke-dasharray="2.7 1.5"/>
<text x="63.70" y="573.15" font-size="7.2" font-weight="normal" font-style="normal" text-anchor="start" fill="#000" stroke="#000" stroke-width="0.26" >PDN ≤0.05 mg/kg daily at 6 months (n=  55)</text>
<text x="63.70" y="583.70" font-size="7.2" font-weight="normal" font-style="normal" text-anchor="start" fill="#000" stroke="#000" stroke-width="0.26" >PDN &gt;0.05 mg/kg daily at 6 months (n= 172)</text>
<line x1="312.30" y1="33.00" x2="324.70" y2="33.00" stroke="#000" stroke-width="1.5"/>
<line x1="313.40" y1="42.90" x2="324.50" y2="42.90" stroke="#000" stroke-width="1.6" stroke-dasharray="2.7 1.5"/>
<text x="327.10" y="34.90" font-size="7.2" font-weight="normal" font-style="normal" text-anchor="start" fill="#000" stroke="#000" stroke-width="0.26" >Failure-free survival at 12 months</text>
<text x="327.10" y="45.20" font-size="7.2" font-weight="normal" font-style="normal" text-anchor="start" fill="#000" stroke="#000" stroke-width="0.26" >Treatment change before 12 months (n=105)</text>
<text x="443.80" y="34.90" font-size="7.2" font-weight="normal" font-style="normal" text-anchor="start" fill="#000" stroke="#000" stroke-width="0.26" >(n=214)</text>
<line x1="312.30" y1="223.40" x2="324.40" y2="223.40" stroke="#000" stroke-width="1.5"/>
<line x1="313.40" y1="233.40" x2="324.50" y2="233.40" stroke="#000" stroke-width="1.6" stroke-dasharray="2.7 1.5"/>
<text x="327.10" y="225.30" font-size="7.2" font-weight="normal" font-style="normal" text-anchor="start" fill="#000" stroke="#000" stroke-width="0.26" >PDN ≤0.2 mg/kg daily at 12 months (n=141)</text>
<text x="327.10" y="235.70" font-size="7.2" font-weight="normal" font-style="normal" text-anchor="start" fill="#000" stroke="#000" stroke-width="0.26" >PDN &gt;0.2 mg/kg daily at 12 months (n=  41)</text>
<line x1="312.90" y1="396.50" x2="325.00" y2="396.50" stroke="#000" stroke-width="1.5"/>
<line x1="314.00" y1="406.60" x2="325.10" y2="406.60" stroke="#000" stroke-width="1.6" stroke-dasharray="2.7 1.5"/>
<text x="327.70" y="398.40" font-size="7.2" font-weight="normal" font-style="normal" text-anchor="start" fill="#000" stroke="#000" stroke-width="0.26" >PDN ≤0.05 mg/kg daily at 12 months (n=92)</text>
<text x="327.70" y="408.90" font-size="7.2" font-weight="normal" font-style="normal" text-anchor="start" fill="#000" stroke="#000" stroke-width="0.26" >PDN &gt;0.05 mg/kg daily at 12 months (n=90)</text>
<line x1="312.90" y1="573.00" x2="325.00" y2="573.00" stroke="#000" stroke-width="1.5"/>
<line x1="314.00" y1="583.10" x2="325.10" y2="583.10" stroke="#000" stroke-width="1.6" stroke-dasharray="2.7 1.5"/>
<text x="327.70" y="574.90" font-size="7.2" font-weight="normal" font-style="normal" text-anchor="start" fill="#000" stroke="#000" stroke-width="0.26" >PDN withdrawn at 12 months (n= 73)</text>
<text x="327.70" y="585.40" font-size="7.2" font-weight="normal" font-style="normal" text-anchor="start" fill="#000" stroke="#000" stroke-width="0.26" >PDN continued at 12 months (n=109)</text>
<text x="69.30" y="93.50" font-size="8.3" fill="#111" stroke="#111" stroke-width="0.26"><tspan font-style="italic">P</tspan> = .039</text>
<text x="69.30" y="267.90" font-size="8.3" fill="#111" stroke="#111" stroke-width="0.26"><tspan font-style="italic">P</tspan> = .26</text>
<text x="69.30" y="441.20" font-size="8.3" fill="#111" stroke="#111" stroke-width="0.26"><tspan font-style="italic">P</tspan> = .37</text>
<text x="69.30" y="614.90" font-size="8.3" fill="#111" stroke="#111" stroke-width="0.26"><tspan font-style="italic">P</tspan> = .21</text>
<text x="332.70" y="93.10" font-size="8.3" fill="#111" stroke="#111" stroke-width="0.26"><tspan font-style="italic">P</tspan> &lt; .001</text>
<text x="332.70" y="267.50" font-size="8.3" fill="#111" stroke="#111" stroke-width="0.26"><tspan font-style="italic">P</tspan> = .017</text>
<text x="332.70" y="441.40" font-size="8.3" fill="#111" stroke="#111" stroke-width="0.26"><tspan font-style="italic">P</tspan> &lt; .001</text>
<text x="332.70" y="615.20" font-size="8.3" fill="#111" stroke="#111" stroke-width="0.26"><tspan font-style="italic">P</tspan> = .001</text>
<polyline points="49.30,155.60 52.70,154.80 57.50,154.00 61.80,152.60 64.20,151.60 70.00,150.20 76.70,148.75 83.50,147.30 88.30,145.90 94.80,144.50 99.60,143.10 104.40,141.60 109.20,140.20 114.00,138.50 118.80,137.10 123.70,135.90 128.50,134.40 133.30,133.50 139.80,132.90 144.60,132.60 149.40,131.60 154.20,130.40 159.00,129.20 163.80,127.80 168.70,126.50 173.50,124.90 177.30,122.50 179.20,121.60 184.80,121.60 189.60,120.70 193.50,120.20 195.40,118.75 199.20,118.00 204.00,117.30 208.80,116.50 215.30,116.50 218.00,115.50 220.80,114.50 223.30,114.10 231.50,113.60 234.90,112.80 237.30,111.50 247.70,111.50" fill="none" stroke="#111" stroke-width="1.45" stroke-linejoin="miter"/>
<polyline points="49.30,155.80 49.30,157.40 62.30,157.40 64.70,155.50 67.10,154.70 87.50,154.70 87.80,151.60 90.20,150.20 93.00,149.70 94.80,148.80 99.60,147.90 104.40,146.70 109.20,146.00 114.00,143.50 128.50,143.50 130.40,142.10 133.00,141.90 136.20,140.20 137.00,139.30 138.80,138.80 167.70,138.80 169.60,136.90 172.00,135.50 178.00,135.30 179.20,134.50 182.10,133.70 198.75,133.70 199.70,131.50 212.70,131.50 214.10,130.60 216.50,129.30 218.90,128.80 219.90,127.40 241.90,127.40 242.30,121.90 247.70,121.90" fill="none" stroke="#111" stroke-width="1.45" stroke-linejoin="miter" stroke-dasharray="2.6 1.45"/>
<polyline points="49.30,330.60 52.70,328.80 56.50,327.90 60.40,326.90 63.30,325.50 66.20,324.50 70.00,323.60 73.80,323.60 77.70,322.60 83.50,321.60 87.30,320.70 90.00,320.50 94.80,318.80 99.60,317.90 104.40,316.40 109.20,314.80 114.00,313.10 116.00,311.60 120.80,310.20 125.60,308.75 127.50,307.10 131.30,306.30 136.20,305.40 139.80,305.20 144.60,304.80 149.40,304.00 154.20,302.30 159.00,300.50 163.80,298.10 168.70,296.30 173.50,294.90 176.30,293.90 178.80,291.30 184.80,291.00 187.70,289.70 193.50,288.75 199.20,287.60 206.90,287.10 208.80,286.30 216.50,286.30 217.50,285.30 235.70,285.30 236.90,283.10 247.70,283.10" fill="none" stroke="#111" stroke-width="1.45" stroke-linejoin="miter"/>
<polyline points="48.80,331.70 52.70,330.30 73.40,330.30 73.80,327.90 77.70,327.20 79.10,325.50 84.40,325.20 86.30,323.10 89.20,322.30 131.30,322.30 132.30,320.20 146.00,320.20 147.00,317.50 167.70,317.50 168.70,315.10 173.00,312.20 182.10,312.20 182.90,309.60 201.60,309.60 203.10,307.00 206.40,303.80 216.50,303.80 217.50,301.50 220.00,299.80 221.60,298.50 223.30,295.60 247.70,295.60" fill="none" stroke="#111" stroke-width="1.45" stroke-linejoin="miter" stroke-dasharray="2.6 1.45"/>
<polyline points="49.30,505.60 49.30,502.90 52.70,501.90 57.50,500.50 60.40,500.00 63.30,497.30 67.10,495.50 71.00,494.50 75.80,494.50 79.60,493.10 83.50,491.80 87.30,490.40 90.00,489.80 94.80,487.90 99.60,487.90 104.40,485.50 109.20,483.60 112.10,482.60 116.00,479.70 120.80,478.50 124.60,476.80 127.50,474.90 135.20,474.90 137.10,473.70 143.70,473.60 145.60,472.60 150.40,471.90 154.20,470.50 159.00,469.20 163.80,467.80 168.70,466.30 170.60,464.90 175.40,464.40 177.30,462.40 188.70,462.40 190.10,461.20 193.90,459.90 216.50,459.90 218.50,458.20 235.70,458.20 236.70,456.50 247.70,456.50" fill="none" stroke="#111" stroke-width="1.45" stroke-linejoin="miter"/>
<polyline points="49.30,505.60 52.30,505.60 52.70,503.70 72.90,503.70 74.80,502.40 78.70,501.40 83.50,500.80 85.40,499.80 92.00,499.80 94.80,498.90 107.30,498.90 109.20,498.00 115.00,497.00 117.90,496.10 121.70,495.40 128.50,494.10 131.30,491.70 140.00,491.30 146.50,490.90 154.20,490.40 155.70,488.00 161.00,486.50 165.80,484.60 170.60,482.20 175.40,480.30 180.20,477.90 184.80,475.80 187.70,474.60 197.30,474.60 201.20,472.90 205.00,471.40 207.90,469.50 215.60,469.50 218.50,468.10 221.60,466.10 224.10,464.60 236.50,464.60 237.70,463.20 247.70,463.20" fill="none" stroke="#111" stroke-width="1.45" stroke-linejoin="miter" stroke-dasharray="2.6 1.45"/>
<polyline points="48.80,681.30 48.80,673.70 53.70,673.70 54.10,671.25 57.00,671.25 57.50,668.70 60.40,668.70 60.90,666.40 68.10,666.40 68.60,664.00 79.10,664.00 79.60,661.40 93.40,661.40 94.00,659.20 105.40,659.20 105.90,656.70 113.10,656.70 114.00,654.30 119.80,654.30 120.30,652.20 123.20,652.20 123.70,650.00 126.00,650.00 126.50,647.60 135.70,647.60 136.20,644.80 144.10,644.80 144.60,642.20 152.80,642.20 153.75,639.80 162.40,639.80 163.40,637.40 170.10,637.40 171.00,634.80 176.80,634.80 177.80,632.10 193.50,632.10 193.90,629.20 217.90,629.20 218.30,626.40 247.70,626.40" fill="none" stroke="#111" stroke-width="1.45" stroke-linejoin="miter"/>
<polyline points="48.80,681.30 51.70,679.60 57.50,678.90 62.30,678.50 64.20,677.50 69.00,676.50 73.80,675.60 78.70,674.60 83.50,673.50 87.30,672.50 91.20,671.70 94.80,671.30 99.60,670.50 104.40,669.20 109.20,668.10 114.00,666.90 117.90,665.20 121.70,664.40 126.50,663.50 131.30,661.90 135.20,661.60 145.60,661.60 149.40,660.50 154.20,659.00 159.00,657.10 163.80,655.70 168.70,653.75 173.50,651.80 178.30,649.90 183.10,648.00 184.80,647.10 189.60,646.00 197.30,645.70 202.10,644.40 206.90,643.10 211.70,642.30 216.50,641.80 219.10,640.90 223.30,639.50 235.70,639.30 236.90,637.20 247.30,637.20" fill="none" stroke="#111" stroke-width="1.45" stroke-linejoin="miter" stroke-dasharray="2.6 1.45"/>
<polyline points="312.20,157.30 312.20,147.00 314.60,145.10 319.40,144.10 324.20,142.70 330.00,142.70 333.80,141.25 338.70,140.30 343.50,138.40 348.30,136.70 351.20,135.00 354.80,133.70 359.60,132.20 364.40,131.00 368.30,130.30 371.20,128.70 375.00,128.40 378.80,127.10 383.70,126.40 388.50,126.40 393.30,125.50 399.80,124.60 404.60,123.20 409.40,121.90 414.20,120.00 419.00,118.80 423.80,116.70 427.70,114.80 431.50,112.90 438.30,112.90 444.80,111.40 448.70,110.20 454.40,109.20 459.20,108.30 464.00,107.10 474.60,107.10 477.50,105.20 483.30,103.75 491.70,103.40 496.60,102.80 499.80,100.30 511.30,100.30" fill="none" stroke="#111" stroke-width="1.45" stroke-linejoin="miter"/>
<polyline points="312.20,154.50 324.70,154.50 326.60,151.50 333.80,150.90 336.70,149.60 341.50,149.20 345.40,148.30 351.20,148.30 352.90,146.60 355.80,145.70 373.10,145.70 375.00,144.70 380.80,144.40 383.70,142.30 418.10,142.30 421.00,140.50 423.80,139.50 431.50,139.50 433.50,137.60 449.60,137.60 452.50,136.00 455.40,134.50 471.70,134.50 473.70,132.90 478.00,132.10 479.40,130.80 505.10,130.80 505.90,127.00 511.30,127.00" fill="none" stroke="#111" stroke-width="1.45" stroke-linejoin="miter" stroke-dasharray="2.6 1.45"/>
<polyline points="312.20,332.40 312.20,319.40 314.60,317.00 319.40,316.50 324.20,315.10 329.00,314.10 333.80,312.70 338.70,311.70 341.50,309.30 346.30,308.40 350.20,306.70 352.90,306.10 357.80,302.70 362.70,301.40 368.60,299.30 370.60,297.10 375.50,296.80 381.30,295.40 389.20,294.90 394.10,293.60 400.20,291.90 404.40,289.10 410.70,287.00 416.00,285.40 421.20,283.30 425.40,282.50 430.70,277.90 432.80,277.20 442.20,277.20 443.80,276.60 448.70,275.70 454.40,274.70 462.10,274.20 464.50,272.10 474.60,272.10 476.50,270.90 479.40,269.60 482.80,268.30 497.00,268.30 499.00,265.50 511.30,265.50" fill="none" stroke="#111" stroke-width="1.45" stroke-linejoin="miter"/>
<polyline points="312.20,332.40 319.60,332.40 320.40,329.00 374.50,329.00 376.00,325.70 411.30,325.70 413.40,323.00 418.10,321.10 419.70,318.50 422.80,318.00 424.40,315.30 433.80,315.30 435.90,312.20 439.10,310.60 441.20,308.20 457.80,308.20 458.30,304.50 476.50,304.50 477.00,299.80 511.30,299.80" fill="none" stroke="#111" stroke-width="1.45" stroke-linejoin="miter" stroke-dasharray="2.6 1.45"/>
<polyline points="312.30,505.60 312.30,485.50 314.80,482.80 322.60,482.60 324.60,481.10 328.50,480.90 331.40,479.20 334.40,477.20 338.80,476.70 341.70,472.80 346.10,471.30 350.10,469.40 352.40,469.00 357.10,464.00 361.90,462.80 367.80,460.40 370.80,456.60 375.00,455.40 379.70,454.50 383.30,453.30 389.20,453.10 392.80,451.50 397.60,450.70 400.30,449.80 404.30,447.20 408.30,446.50 412.90,442.30 420.90,442.30 422.90,440.80 426.90,439.90 430.90,434.60 447.70,434.60 448.90,432.60 463.80,432.60 465.00,430.80 482.20,430.80 483.20,428.60 511.30,428.60" fill="none" stroke="#111" stroke-width="1.45" stroke-linejoin="miter"/>
<polyline points="312.30,505.40 319.70,505.40 321.70,502.70 348.10,502.70 350.10,501.30 358.30,501.30 361.30,499.70 373.80,499.10 376.20,498.20 392.80,497.90 395.20,496.80 403.00,496.80 405.60,495.00 410.90,494.70 416.20,493.00 419.60,489.00 424.20,487.00 429.50,485.40 434.80,485.00 440.20,482.80 441.20,481.90 444.80,480.40 453.70,480.40 457.80,477.50 463.80,475.40 473.30,475.40 479.20,470.00 497.10,470.00 498.50,467.00 511.30,466.60" fill="none" stroke="#111" stroke-width="1.45" stroke-linejoin="miter" stroke-dasharray="2.6 1.45"/>
<polyline points="312.60,681.40 312.60,655.30 323.00,655.30 323.70,653.80 331.20,653.60 332.30,651.40 333.30,650.40 339.60,649.90 341.20,647.30 344.90,646.20 347.00,644.10 350.10,642.60 353.80,642.60 354.30,640.40 362.00,640.40 362.50,638.70 365.00,638.70 365.40,637.10 370.20,637.10 370.70,635.20 375.50,635.20 376.00,633.50 380.80,633.50 381.30,631.50 390.00,631.50 390.40,629.40 400.60,629.40 401.70,627.50 407.30,627.50 409.50,623.60 412.90,621.90 420.70,621.90 421.80,619.60 425.80,619.30 427.40,617.40 429.10,615.20 431.90,611.60 464.00,611.60 464.50,609.40 482.30,609.40 483.20,606.60 511.30,606.60" fill="none" stroke="#111" stroke-width="1.45" stroke-linejoin="miter"/>
<polyline points="312.60,681.40 314.40,679.30 319.70,678.70 321.80,676.30 328.10,675.60 332.30,674.80 336.50,674.50 340.70,673.50 347.00,673.50 351.20,672.40 355.00,670.40 360.10,668.10 366.40,667.10 371.40,664.90 377.70,664.10 390.30,664.10 395.30,662.40 400.60,661.00 405.10,658.50 410.70,658.50 416.30,656.60 419.00,653.80 424.10,652.10 428.60,650.60 434.10,649.30 439.70,647.60 444.90,646.30 449.80,644.80 456.70,643.40 462.50,640.90 474.30,640.90 477.20,638.00 480.20,636.00 496.50,636.00 499.00,632.90 511.30,632.90" fill="none" stroke="#111" stroke-width="1.45" stroke-linejoin="miter" stroke-dasharray="2.6 1.45"/>
</g>
</svg>
</body></html>
